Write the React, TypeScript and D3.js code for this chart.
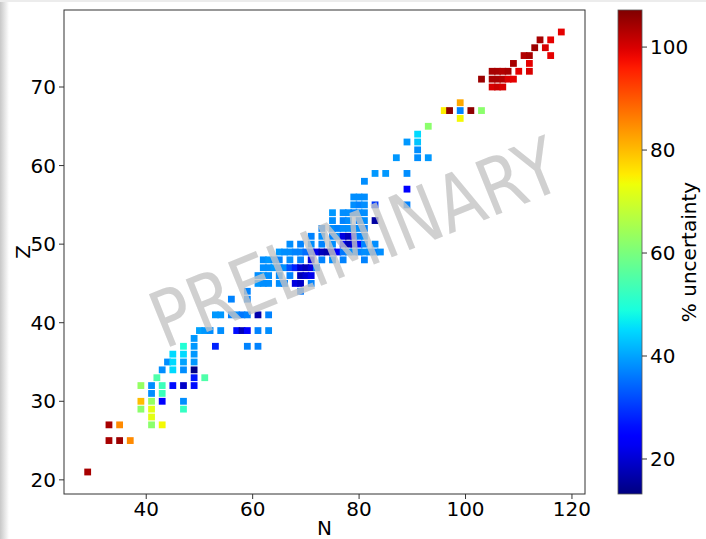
import * as d3 from "d3";

const W = 706;
const H = 539;

// each row: proton number Z, the neutron numbers N in it, and % uncertainty
const rowZ = [21, 25, 27, 28, 29, 30, 31, 32, 33, 34, 35, 36, 37, 38, 39, 41, 43, 44, 45, 46, 47, 48, 49, 50, 51, 52, 53, 54, 55, 56, 57, 58, 59, 61, 62, 63, 64, 65, 66, 67, 68, 70, 71, 72, 73, 74, 75, 76, 77];
const rowN = [
  [29],
  [33, 35, 37],
  [33, 35, 41, 43],
  [41],
  [39, 41, 47],
  [39, 41, 43, 47],
  [41, 43],
  [39, 41, 43, 45, 47, 49],
  [42, 49, 51],
  [43, 45, 47, 49],
  [44, 45, 47, 49],
  [45, 47, 49],
  [47, 49, 53, 59, 61],
  [49],
  [50, 51, 52, 54, 57, 58, 59, 61, 63],
  [53, 54, 56, 57, 58, 59, 61, 63],
  [56, 59],
  [59, 69],
  [61, 62, 63, 65, 66, 68, 69, 71],
  [61, 62, 63, 65, 67, 69, 70, 71],
  [62, 63, 64, 65, 66, 67, 68, 69, 70, 71, 72],
  [62, 63, 64, 65, 67, 69, 71, 73, 75, 77, 81],
  [65, 66, 67, 68, 69, 70, 71, 72, 73, 74, 75, 76, 77, 78, 79, 80, 81, 82, 83, 84],
  [67, 69, 71, 73, 75, 77, 78, 79, 80, 81, 83],
  [71, 73, 75, 76, 77, 78, 79, 80, 81],
  [73, 75, 76, 77, 78, 79, 80, 81],
  [75, 77, 78, 80, 81, 83],
  [75, 77, 78, 79, 80, 81],
  [79, 80, 81, 83, 89],
  [79, 80, 81],
  [89],
  [81],
  [83, 85, 89],
  [87, 91, 93],
  [91],
  [89, 91],
  [91],
  [93],
  [99],
  [96, 97, 99, 101, 103],
  [99],
  [105, 106, 107],
  [103, 105, 106, 107, 108, 109],
  [105, 106, 107, 108, 110, 112],
  [109, 112],
  [111, 112, 116],
  [113, 115],
  [114, 116],
  [118],
];
const rowU = [
  [104],
  [104, 105, 85],
  [104, 85, 62, 74],
  [72],
  [62, 72, 52],
  [80, 63, 24, 38],
  [38, 53],
  [63, 38, 53, 26, 19, 26],
  [55, 27, 55],
  [38, 45, 38, 14],
  [38, 45, 40, 39],
  [45, 45, 39],
  [50, 39, 28, 37, 37],
  [39],
  [40, 39, 38, 38, 26, 18, 24, 37, 38],
  [39, 39, 37, 38, 36, 37, 17, 37],
  [37, 37],
  [37, 36],
  [39, 38, 38, 38, 37, 21, 19, 37],
  [38, 39, 38, 38, 37, 18, 20, 22],
  [38, 38, 39, 37, 38, 32, 28, 20, 18, 21, 37],
  [38, 39, 38, 37, 38, 37, 21, 37, 38, 37, 37],
  [39, 38, 38, 37, 37, 35, 31, 22, 18, 17, 19, 24, 36, 38, 38, 37, 38, 38, 37, 38],
  [38, 37, 38, 37, 38, 23, 18, 20, 26, 37, 38],
  [37, 38, 37, 38, 21, 18, 23, 37, 38],
  [37, 38, 37, 38, 38, 37, 38, 37],
  [38, 37, 38, 37, 38, 16],
  [39, 38, 38, 37, 38, 38],
  [38, 37, 38, 30, 37],
  [38, 38, 38],
  [24],
  [38],
  [39, 39, 38],
  [39, 38, 39],
  [38],
  [39, 43],
  [45],
  [62],
  [74],
  [75, 106, 37, 106, 62],
  [82],
  [100, 101, 100],
  [105, 104, 104, 103, 100, 99],
  [104, 104, 103, 104, 99, 100],
  [104, 99],
  [103, 104, 99],
  [105, 100],
  [104, 99],
  [99],
];

const xTicks = [40, 60, 80, 100, 120];
const yTicks = [20, 30, 40, 50, 60, 70];
const cbTicks = [20, 40, 60, 80, 100];

// matplotlib "jet"
const jetR = d3.scaleLinear([0, 0.35, 0.66, 0.89, 1], [0, 0, 1, 1, 0.5]).clamp(true);
const jetG = d3.scaleLinear([0, 0.125, 0.375, 0.64, 0.91, 1], [0, 0, 1, 1, 0, 0]).clamp(true);
const jetB = d3.scaleLinear([0, 0.11, 0.34, 0.65, 1], [0.5, 1, 1, 0, 0]).clamp(true);
const jet = (t: number) => d3.rgb(jetR(t) * 255, jetG(t) * 255, jetB(t) * 255).formatHex();

const plot = { left: 64, right: 585, top: 10, bottom: 494 };
const cbar = { left: 618, right: 642 };
const font = "DejaVu Sans, sans-serif";

export default function App() {
  const x = d3.scaleLinear([24.55, 122.45], [plot.left, plot.right]);
  const y = d3.scaleLinear([18.2, 79.8], [plot.bottom, plot.top]);
  const u = d3.scaleLinear([13.2, 107.2], [0, 1]);
  const cy = d3.scaleLinear([13.2, 107.2], [plot.bottom, plot.top]);

  const points = rowZ.flatMap((z, i) => rowN[i].map((n, j) => ({ n, z, v: rowU[i][j] })));
  const sq = 6.8;
  const stops = d3.range(0, 1.0001, 0.02);

  return (
    <svg width={W} height={H} style={{ position: "absolute", left: 0, top: 0, background: "#fff" }} fontFamily={font}>
      <defs>
        <linearGradient id="jet" x1="0" y1="1" x2="0" y2="0">
          {stops.map((t) => (
            <stop key={t} offset={t} stopColor={jet(t)} />
          ))}
        </linearGradient>
        <linearGradient id="shade" x1="0" y1="0" x2="1" y2="0">
          <stop offset="0" stopColor="#c8c8c8" />
          <stop offset="1" stopColor="#ffffff" />
        </linearGradient>
      </defs>
      <rect x={0} y={0} width={9} height={H} fill="url(#shade)" />
      <rect x={0} y={0} width={W} height={2} fill="#ececec" />

      {/* points */}
      {points.map((p, i) => (
        <rect key={i} x={x(p.n) - sq / 2} y={y(p.z) - sq / 2} width={sq} height={sq} fill={jet(u(p.v))} />
      ))}

      {/* watermark */}
      <text
        transform="translate(355,243) rotate(-22) scale(0.84,1)"
        textAnchor="middle"
        dominantBaseline="central"
        fontSize={78}
        fill="#c4c4c4"
        fillOpacity={0.8}
      >
        PRELIMINARY
      </text>

      {/* axes frame */}
      <rect x={plot.left} y={plot.top} width={plot.right - plot.left} height={plot.bottom - plot.top} fill="none" stroke="#333" strokeWidth={1} />
      {xTicks.map((t) => (
        <g key={t}>
          <line x1={x(t)} x2={x(t)} y1={plot.bottom} y2={plot.bottom + 5} stroke="#333" />
          <text x={x(t)} y={plot.bottom + 22} textAnchor="middle" fontSize={20}>{t}</text>
        </g>
      ))}
      {yTicks.map((t) => (
        <g key={t}>
          <line x1={plot.left - 5} x2={plot.left} y1={y(t)} y2={y(t)} stroke="#333" />
          <text x={plot.left - 8} y={y(t) + 7} textAnchor="end" fontSize={20}>{t}</text>
        </g>
      ))}
      <text x={(plot.left + plot.right) / 2} y={535} textAnchor="middle" fontSize={20}>N</text>
      <text transform={`translate(30,${(plot.top + plot.bottom) / 2}) rotate(-90)`} textAnchor="middle" fontSize={20}>Z</text>

      {/* colorbar */}
      <rect x={cbar.left} y={plot.top} width={cbar.right - cbar.left} height={plot.bottom - plot.top} fill="url(#jet)" stroke="#555" strokeWidth={0.8} />
      {cbTicks.map((t) => (
        <g key={t}>
          <line x1={cbar.right} x2={cbar.right + 5} y1={cy(t)} y2={cy(t)} stroke="#333" />
          <text x={cbar.right + 8} y={cy(t) + 7} fontSize={20}>{t}</text>
        </g>
      ))}
      <text transform={`translate(696,${(plot.top + plot.bottom) / 2}) rotate(-90)`} textAnchor="middle" fontSize={20}>% uncertainty</text>
    </svg>
  );
}
